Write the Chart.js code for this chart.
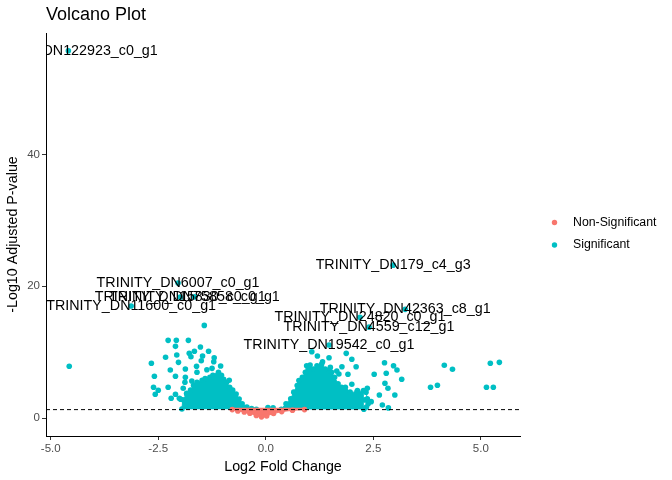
<!DOCTYPE html>
<html>
<head>
<meta charset="utf-8">
<script src="https://cdn.jsdelivr.net/npm/chart.js@4.4.0/dist/chart.umd.min.js"></script>
<style>
  html, body { margin: 0; padding: 0; background: #ffffff; }
  #wrap { width: 672px; height: 480px; position: relative; }
</style>
</head>
<body>
<div id="wrap"><canvas id="volcano"></canvas></div>
<script>
// ####################### DATA #######################

var seriesNames = ['Non-Significant', 'Significant'];
var seriesColors = ['#F8766D', '#00BFC4'];

var xTicks = [-5, -2.5, 0, 2.5, 5];
var yTicks = [0, 20, 40];
var pCutoff = 1.3;

// labelled genes: log2 fold change / -log10 padj
var geneNames = ['TRINITY_DN122923_c0_g1', 'TRINITY_DN179_c4_g3', 'TRINITY_DN6007_c0_g1',
    'TRINITY_DN15830_c0_g1', 'TRINITY_DN75858_c0_g1', 'TRINITY_DN11600_c0_g1',
    'TRINITY_DN42363_c8_g1', 'TRINITY_DN24820_c0_g1', 'TRINITY_DN4559_c12_g1', 'TRINITY_DN19542_c0_g1'];
var geneFC = [-4.59, 2.96, -2.04, -1.99, -1.66, -3.13, 3.24, 2.19, 2.40, 1.47];
var genePadj = [55.7, 23.2, 20.5, 18.35, 18.4, 17.0, 16.5, 15.3, 13.8, 11.1];

// significant genes away from the dense cloud
var sigPoints = [
    [-4.57, 7.87], [-2.66, 8.32], [-2.59, 6.35], [-2.61, 4.69], [-2.50, 4.24], [-2.57, 3.63],
    [-2.33, 9.23], [-2.27, 11.8], [-2.08, 11.8], [-2.10, 10.89], [-1.80, 11.8], [-2.07, 9.58],
    [-2.03, 8.47], [-2.22, 7.31], [-2.10, 6.35], [-2.27, 4.69], [-2.10, 3.63], [-2.20, 3.03],
    [-2.01, 3.03], [-1.43, 14.07], [-1.52, 10.79], [-1.33, 10.14], [-1.66, 10.14], [-1.78, 9.83],
    [-1.47, 9.43], [-1.74, 9.32], [-1.20, 9.17], [-1.50, 8.71], [-1.21, 8.56], [-1.61, 7.87],
    [-1.05, 7.91], [-1.87, 7.46], [-1.37, 7.35], [-1.25, 7.56], [-1.60, 6.96], [-1.87, 6.20],
    [-1.88, 5.45], [-1.72, 5.64], [-0.85, 5.75], [-1.92, 4.54], [-1.98, 2.87], [-1.84, 3.78],
    [0.05, 1.63], [0.17, 1.56],
    [1.07, 10.08], [1.20, 9.43], [1.47, 9.17], [1.87, 9.83], [2.00, 8.93], [1.32, 8.56],
    [1.65, 7.16], [1.70, 6.70], [1.77, 7.81], [1.91, 6.66], [2.00, 5.14], [2.10, 7.81],
    [2.13, 4.18], [2.20, 3.52], [2.36, 4.54], [2.31, 2.77], [2.45, 2.51], [2.52, 6.66],
    [2.64, 3.52], [2.71, 2.01], [2.76, 8.41], [2.77, 5.30], [2.80, 6.81], [2.97, 7.96],
    [2.84, 4.54], [3.00, 3.52], [3.05, 7.31], [3.16, 5.90], [2.85, 1.56], [4.15, 8.02],
    [4.34, 7.41], [3.99, 4.99], [3.83, 4.69], [5.22, 8.32], [5.43, 8.47], [5.13, 4.69], [5.29, 4.69]
];

// outline of the overlapping points in the two dense clouds
var sigCoreLeft = [
    [-1.95, 1.4], [-1.93, 2.8], [-1.84, 3.65], [-1.75, 4.25], [-1.68, 5.0], [-1.60, 5.45],
    [-1.48, 5.75], [-1.41, 6.0], [-1.30, 6.2], [-1.23, 6.5], [-1.13, 6.5], [-1.10, 6.95],
    [-1.03, 6.5], [-0.98, 5.9], [-0.91, 5.45], [-0.84, 4.7], [-0.77, 4.25], [-0.69, 3.65],
    [-0.62, 2.9], [-0.55, 2.2], [-0.44, 1.7], [-0.33, 1.45], [-0.22, 1.35]
];
var sigCoreRight = [
    [0.36, 1.35], [0.47, 2.2], [0.58, 2.95], [0.65, 3.95], [0.73, 4.95], [0.77, 5.7],
    [0.85, 6.2], [0.92, 6.95], [0.95, 7.95], [1.03, 8.05], [1.11, 7.45], [1.19, 7.95],
    [1.30, 8.2], [1.38, 7.45], [1.50, 7.7], [1.53, 6.95], [1.60, 6.2], [1.68, 5.2],
    [1.76, 4.7], [1.85, 4.7], [1.96, 3.95], [2.12, 3.95], [2.27, 4.2], [2.33, 3.95],
    [2.36, 2.95], [2.38, 2.2], [2.34, 1.7], [2.28, 1.35]
];
// non-significant genes, lower edge of the red V
var nonSigCore = [
    [-0.78, 1.3], [-0.65, 1.1], [-0.50, 0.95], [-0.37, 0.75], [-0.22, 0.4], [-0.10, 0.2],
    [0.02, 0.35], [0.18, 0.7], [0.37, 1.0], [0.62, 1.2], [0.9, 1.3]
];
var nonSigTop = 1.6;

// ####################### CHART #######################

function toXY(list) {
    return list.map(function (p) { return {x: p[0], y: p[1]}; });
}

var labelled = geneFC.map(function (fc, i) { return {x: fc, y: genePadj[i]}; });
var FONT = '"Liberation Sans", Arial, sans-serif';

var volcanoExtras = {
    id: 'volcanoExtras',
    afterDatasetsDraw: function (chart) {
        var ctx = chart.ctx;
        var area = chart.chartArea;
        var xs = chart.scales.x, ys = chart.scales.y;

        ctx.save();
        ctx.beginPath();
        ctx.rect(area.left, area.top, area.right - area.left, area.bottom - area.top);
        ctx.clip();

        // padj cutoff
        var yCut = ys.getPixelForValue(pCutoff);
        ctx.setLineDash([4, 3]);
        ctx.strokeStyle = '#000';
        ctx.lineWidth = 1;
        ctx.beginPath();
        ctx.moveTo(area.left, yCut);
        ctx.lineTo(area.right, yCut);
        ctx.stroke();
        ctx.setLineDash([]);

        // gene labels
        ctx.font = '14.3px ' + FONT;
        ctx.fillStyle = '#000';
        ctx.textAlign = 'center';
        ctx.textBaseline = 'middle';
        for (var i = 0; i < geneNames.length; i++) {
            ctx.fillText(geneNames[i], xs.getPixelForValue(geneFC[i]), ys.getPixelForValue(genePadj[i]));
        }
        ctx.restore();

        // title
        ctx.save();
        ctx.font = '18px ' + FONT;
        ctx.fillStyle = '#000';
        ctx.textAlign = 'left';
        ctx.textBaseline = 'middle';
        ctx.fillText('Volcano Plot', area.left, 15);

        // legend
        ctx.font = '12.3px ' + FONT;
        for (var k = 0; k < seriesNames.length; k++) {
            var ly = 222.5 + k * 22.5;
            ctx.fillStyle = seriesColors[k];
            ctx.beginPath();
            ctx.arc(554.5, ly, 2.7, 0, Math.PI * 2);
            ctx.fill();
            ctx.fillStyle = '#000';
            ctx.fillText(seriesNames[k], 573, ly);
        }
        ctx.restore();
    }
};

var pointStyle = {pointRadius: 2.8, pointHoverRadius: 2.8, pointBorderWidth: 0};

new Chart(document.getElementById('volcano'), {
    type: 'scatter',
    data: {
        datasets: [
            Object.assign({
                label: seriesNames[0], data: toXY(nonSigCore), showLine: true,
                borderColor: seriesColors[0], backgroundColor: seriesColors[0], pointBackgroundColor: seriesColors[0],
                borderWidth: 1, fill: {value: nonSigTop}
            }, pointStyle),
            Object.assign({
                label: seriesNames[1], data: toXY(sigPoints).concat(labelled),
                backgroundColor: seriesColors[1], pointBackgroundColor: seriesColors[1]
            }, pointStyle),
            Object.assign({
                label: seriesNames[1], data: toXY(sigCoreLeft), showLine: true,
                borderColor: seriesColors[1], backgroundColor: seriesColors[1], pointBackgroundColor: seriesColors[1],
                borderWidth: 1, fill: {value: 1.35}
            }, pointStyle),
            Object.assign({
                label: seriesNames[1], data: toXY(sigCoreRight), showLine: true,
                borderColor: seriesColors[1], backgroundColor: seriesColors[1], pointBackgroundColor: seriesColors[1],
                borderWidth: 1, fill: {value: 1.35}
            }, pointStyle)
        ]
    },
    options: {
        responsive: true,
        maintainAspectRatio: false,
        animation: false,
        layout: {padding: {top: 33, right: 152, left: 0, bottom: 0}},
        plugins: {
            legend: {display: false},
            tooltip: {enabled: false},
            title: {display: false}
        },
        scales: {
            x: {
                type: 'linear',
                min: -5.11,
                max: 5.91,
                afterBuildTicks: function (scale) {
                    scale.ticks = xTicks.map(function (v) { return {value: v}; });
                },
                afterFit: function (scale) { scale.height = 44; },
                grid: {display: true, drawOnChartArea: false, drawTicks: true, tickLength: 4, color: '#333333'},
                border: {display: true, color: '#000000', width: 1},
                ticks: {
                    color: '#4D4D4D', padding: 2, maxRotation: 0,
                    font: {family: FONT, size: 11.5},
                    callback: function (v) { return v.toFixed(1); }
                },
                title: {display: true, text: 'Log2 Fold Change', color: '#000', font: {family: FONT, size: 14.3}, padding: {top: 2, bottom: 4}}
            },
            y: {
                type: 'linear',
                min: -2.7,
                max: 58.4,
                afterBuildTicks: function (scale) {
                    scale.ticks = yTicks.map(function (v) { return {value: v}; });
                },
                afterFit: function (scale) { scale.width = 46; },
                grid: {display: true, drawOnChartArea: false, drawTicks: true, tickLength: 4, color: '#333333'},
                border: {display: true, color: '#000000', width: 1},
                ticks: {
                    color: '#4D4D4D', padding: 2,
                    font: {family: FONT, size: 11.5},
                    callback: function (v) { return String(v); }
                },
                title: {display: true, text: '-Log10 Adjusted P-value', color: '#000', font: {family: FONT, size: 14.3}, padding: {top: 4, bottom: 2}}
            }
        }
    },
    plugins: [volcanoExtras]
});
</script>
</body>
</html>
